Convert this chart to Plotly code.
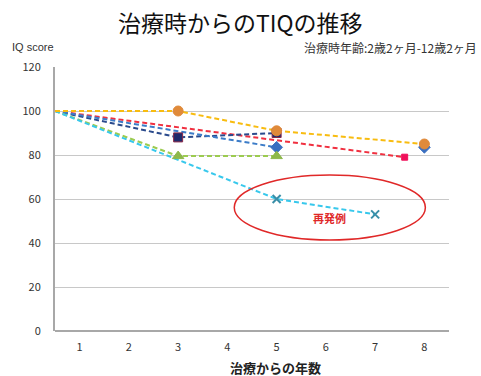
import plotly.graph_objects as go

# Years since treatment (start point sits at the left edge of the axis)
x_ticks = [1, 2, 3, 4, 5, 6, 7, 8]
y_ticks = [0, 20, 40, 60, 80, 100, 120]

# Individual TIQ courses
orange_x = [0.5, 3, 5, 8]
orange_y = [100, 100, 91, 85]

red_x = [0.5, 7.6]
red_y = [100, 79]

navy_x = [0.5, 3, 5]
navy_y = [100, 88, 90]

blue_x = [0.5, 5, 6.5, 8]
blue_y = [100, 83.5, None, 83.5]

green_x = [0.5, 3, 5]
green_y = [100, 79.5, 79.5]

cyan_x = [0.5, 5, 7]
cyan_y = [100, 60, 53]

series = [
    # name, x, y, line colour, marker symbol, marker colour, marker outline, size
    ("red", red_x, red_y, "#F03040", "square", "#F0105A", "#F0105A", 6),
    ("navy", navy_x, navy_y, "#2A4A8C", "square", "#1F2A6B", "#8B2848", 9),
    ("blue", blue_x, blue_y, "#3C7CC8", "diamond", "#3A6FC0", "#3A6FC0", 9),
    ("green", green_x, green_y, "#9CCB50", "triangle-up", "#8DB84A", "#8DB84A", 10),
    ("cyan", cyan_x, cyan_y, "#38C8EC", "x-thin-open", "#3A8FA8", "#3A8FA8", 8),
    ("orange", orange_x, orange_y, "#F8BC10", "circle", "#E08A3A", "#E08A3A", 10),
]

fig = go.Figure()
for name, xs, ys, lc, sym, mc, mlc, size in series:
    fig.add_trace(go.Scatter(
        x=xs, y=ys, name=name, mode="lines",
        connectgaps=False,
        line=dict(color=lc, width=2, dash="5px,3px"),
        hoverinfo="skip",
    ))
for name, xs, ys, lc, sym, mc, mlc, size in series:
    px = [a for a, b in zip(xs[1:], ys[1:]) if b is not None]
    py = [b for b in ys[1:] if b is not None]
    fig.add_trace(go.Scatter(
        x=px, y=py, name=name, mode="markers",
        marker=dict(symbol=sym, color=mc, size=size,
                    line=dict(color=mlc, width=2 if sym.startswith("x") else 1)),
    ))

# Relapse cases highlighted with an ellipse
fig.add_shape(type="circle", xref="x", yref="y",
              x0=4.14, x1=8.02, y0=41.4, y1=70.9,
              line=dict(color="#E02828", width=1.5))
fig.add_annotation(x=6.07, y=51.4, xref="x", yref="y", text="<b>再発例</b>",
                   showarrow=False,
                   font=dict(family="Noto Sans CJK JP", size=11, color="#E02828"))

# Title, corner labels and x-axis caption
fig.add_annotation(x=0.47, y=1.0, xref="paper", yref="paper",
                   xanchor="center", yanchor="middle", yshift=45,
                   text="治療時からのTIQの推移", showarrow=False,
                   font=dict(family="Noto Sans CJK JP", size=23, color="#111111"))
fig.add_annotation(xref="paper", yref="paper", x=-0.115, y=1.0, yshift=20,
                   xanchor="left", yanchor="middle", text="IQ score",
                   showarrow=False, font=dict(size=11, color="#333333",
                                              family="Liberation Sans"))
fig.add_annotation(xref="paper", yref="paper", x=1.075, y=1.0, yshift=20,
                   xanchor="right", yanchor="middle",
                   text="治療時年齢:2歳2ヶ月-12歳2ヶ月", showarrow=False,
                   font=dict(size=12, color="#333333"))
fig.add_annotation(xref="paper", yref="paper", x=0.56, y=0.0, yshift=-36,
                   xanchor="center", yanchor="middle",
                   text="<b>治療からの年数</b>", showarrow=False,
                   font=dict(size=13, color="#222222"))

fig.update_layout(
    width=481, height=376,
    margin=dict(l=55, r=32, t=67, b=45, autoexpand=False),
    paper_bgcolor="white", plot_bgcolor="white",
    showlegend=False,
    font=dict(family="Noto Sans CJK JP", color="#333333"),
    xaxis=dict(
        range=[0.5, 8.5], tickvals=x_ticks, ticktext=[str(v) for v in x_ticks],
        showgrid=False, zeroline=False, showline=False, ticks="",
        ticklabelstandoff=8, automargin=False,
        tickfont=dict(size=11, color="#333333"),
        fixedrange=True,
    ),
    yaxis=dict(
        range=[0, 120], tickvals=y_ticks,
        showgrid=True, gridcolor="#C8C8C8", gridwidth=1,
        zeroline=True, zerolinecolor="#A8A8A8", zerolinewidth=1.5,
        showline=True, linecolor="#A8A8A8", linewidth=2,
        ticks="", ticklabelstandoff=10, automargin=False,
        tickfont=dict(size=11, color="#333333"),
        fixedrange=True,
    ),
)

fig.write_html("out.html")
